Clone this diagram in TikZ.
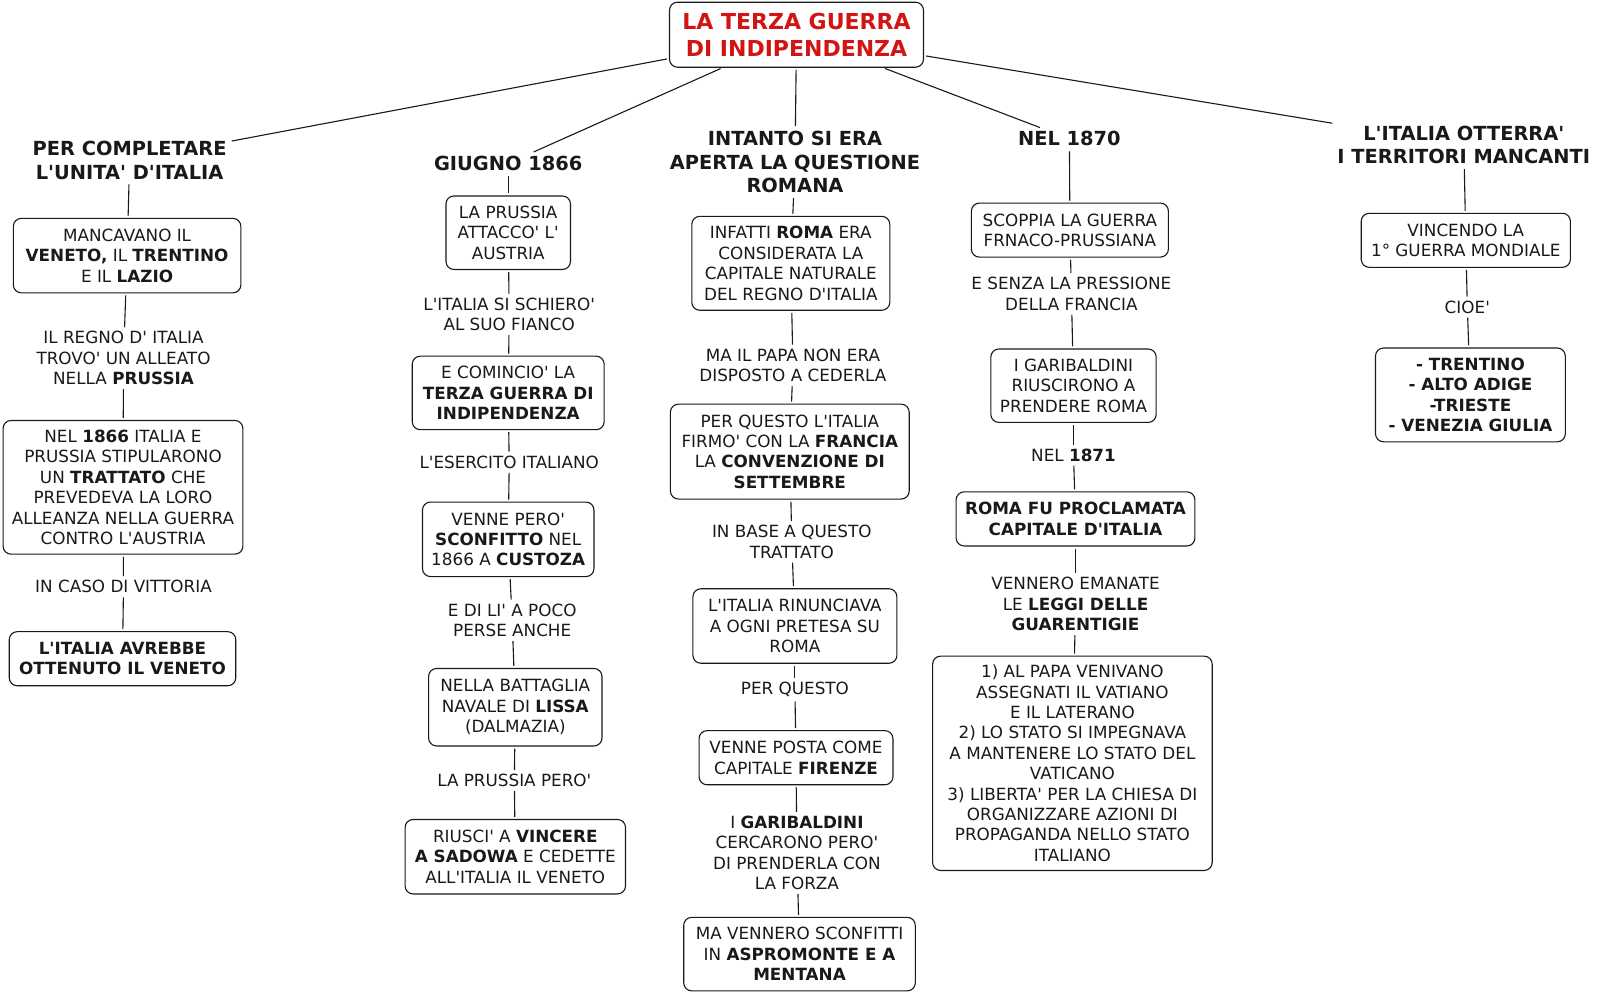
\documentclass[tikz,border=0pt]{standalone}
\usepackage{fontspec}
\newfontfamily\vfont{DejaVu Sans}
\newcommand\bodyfs{\vfont\fontsize{16.8}{20.4}\selectfont}
\newcommand\headfs{\vfont\fontsize{19.4}{23.5}\selectfont\bfseries}
\newcommand\titlefs{\vfont\fontsize{22}{26.5}\selectfont\bfseries}
\definecolor{tred}{RGB}{210,20,20}
\definecolor{ink}{RGB}{25,25,25}
\begin{document}
\begin{tikzpicture}[x=1pt,y=-1pt,
  box/.style={draw=ink, line width=1.1pt, rounded corners=8pt, align=center, font=\bodyfs, text=ink, inner sep=2pt},
  lbl/.style={align=center, font=\bodyfs, text=ink, inner sep=2pt},
  head/.style={align=center, font=\headfs, text=ink, inner sep=3pt},
  conn/.style={line width=1.1pt, draw=ink, shorten >=2pt, shorten <=2pt}]
\useasboundingbox[fill=white] (0,0) rectangle (1600,994);

% title
\node[box, font=\titlefs, text=tred, minimum width=254pt, minimum height=65pt] (title) at (796.5,34.7) {LA TERZA GUERRA\\DI INDIPENDENZA};

% headings
\node[head] (h1) at (129.6,160.2) {PER COMPLETARE\\L'UNITA' D'ITALIA};
\node[head] (h2) at (508.2,163.3) {GIUGNO 1866};
\node[head] (h3) at (795,162.2) {INTANTO SI ERA\\APERTA LA QUESTIONE\\ROMANA};
\node[head] (h4) at (1069.4,138.8) {NEL 1870};
\node[head] (h5) at (1463.8,144.9) {L'ITALIA OTTERRA'\\I TERRITORI MANCANTI};

% column 1
\node[box, minimum width=227.5pt, minimum height=74.5pt] (b1) at (127.1,255.6) {MANCAVANO IL\\\textbf{VENETO,} IL \textbf{TRENTINO}\\E IL \textbf{LAZIO}};
\node[lbl] (l1) at (123.5,358.2) {IL REGNO D' ITALIA\\TROVO' UN ALLEATO\\NELLA \textbf{PRUSSIA}};
\node[box, minimum width=239.8pt, minimum height=133.7pt] (b2) at (123,487.3) {NEL \textbf{1866} ITALIA E\\PRUSSIA STIPULARONO\\UN \textbf{TRATTATO} CHE\\PREVEDEVA LA LORO\\ALLEANZA NELLA GUERRA\\CONTRO L'AUSTRIA};
\node[lbl] (l2) at (123.5,586.7) {IN CASO DI VITTORIA};
\node[box, font=\bodyfs\bfseries, minimum width=226.5pt, minimum height=54.1pt] (b3) at (122.5,658.7) {L'ITALIA AVREBBE\\OTTENUTO IL VENETO};

% column 2
\node[box, minimum width=124.5pt, minimum height=73.5pt] (b4) at (508.2,232.7) {LA PRUSSIA\\ATTACCO' L'\\AUSTRIA};
\node[lbl] (l3) at (509.2,314.3) {L'ITALIA SI SCHIERO'\\AL SUO FIANCO};
\node[box, minimum width=191.9pt, minimum height=73.5pt] (b5) at (508.2,392.9) {E COMINCIO' LA\\\textbf{TERZA GUERRA DI}\\\textbf{INDIPENDENZA}};
\node[lbl] (l4) at (509.2,462.2) {L'ESERCITO ITALIANO};
\node[box, minimum width=171.5pt, minimum height=74.5pt] (b6) at (508.2,539.3) {VENNE PERO'\\\textbf{SCONFITTO} NEL\\1866 A \textbf{CUSTOZA}};
\node[lbl] (l5) at (512.2,620.4) {E DI LI' A POCO\\PERSE ANCHE};
\node[box, minimum width=173.4pt, minimum height=77.5pt] (b7) at (515.3,707.2) {NELLA BATTAGLIA\\NAVALE DI \textbf{LISSA}\\(DALMAZIA)};
\node[lbl] (l6) at (514.3,780.6) {LA PRUSSIA PERO'};
\node[box, minimum width=220.4pt, minimum height=74.5pt] (b8) at (515.3,856.7) {RIUSCI' A \textbf{VINCERE}\\\textbf{A SADOWA} E CEDETTE\\ALL'ITALIA IL VENETO};

% column 3
\node[box, minimum width=198pt, minimum height=93.9pt] (b9) at (790.8,263.3) {INFATTI \textbf{ROMA} ERA\\CONSIDERATA LA\\CAPITALE NATURALE\\DEL REGNO D'ITALIA};
\node[lbl] (l7) at (792.9,365.3) {MA IL PAPA NON ERA\\DISPOSTO A CEDERLA};
\node[box, minimum width=238.8pt, minimum height=94.9pt] (b10) at (789.8,451.6) {PER QUESTO L'ITALIA\\FIRMO' CON LA \textbf{FRANCIA}\\LA \textbf{CONVENZIONE DI}\\\textbf{SETTEMBRE}};
\node[lbl] (l8) at (791.8,541.8) {IN BASE A QUESTO\\TRATTATO};
\node[box, minimum width=204pt, minimum height=74.5pt] (b11) at (794.9,626) {L'ITALIA RINUNCIAVA\\A OGNI PRETESA SU\\ROMA};
\node[lbl] (l9) at (794.9,689.8) {PER QUESTO};
\node[box, minimum width=193.9pt, minimum height=54.1pt] (b12) at (796,757.7) {VENNE POSTA COME\\CAPITALE \textbf{FIRENZE}};
\node[lbl] (l10) at (796.9,853) {I \textbf{GARIBALDINI}\\CERCARONO PERO'\\DI PRENDERLA CON\\LA FORZA};
\node[box, minimum width=231.6pt, minimum height=73.5pt] (b13) at (799.5,954.1) {MA VENNERO SCONFITTI\\IN \textbf{ASPROMONTE E A}\\\textbf{MENTANA}};

% column 4
\node[box, minimum width=197pt, minimum height=54pt] (b14) at (1069.9,230.1) {SCOPPIA LA GUERRA\\FRNACO-PRUSSIANA};
\node[lbl] (l11) at (1071.4,293.9) {E SENZA LA PRESSIONE\\DELLA FRANCIA};
\node[box, minimum width=165.3pt, minimum height=73.4pt] (b15) at (1073.5,385.7) {I GARIBALDINI\\RIUSCIRONO A\\PRENDERE ROMA};
\node[lbl] (l12) at (1073.5,455.1) {NEL \textbf{1871}};
\node[box, font=\bodyfs\bfseries, minimum width=238.8pt, minimum height=54.1pt] (b16) at (1075.5,518.9) {ROMA FU PROCLAMATA\\CAPITALE D'ITALIA};
\node[lbl] (l13) at (1075.5,604.1) {VENNERO EMANATE\\LE \textbf{LEGGI DELLE}\\\textbf{GUARENTIGIE}};
\node[box, minimum width=279.6pt, minimum height=214.3pt] (b17) at (1072.4,763.3) {1) AL PAPA VENIVANO\\ASSEGNATI IL VATIANO\\E IL LATERANO\\2) LO STATO SI IMPEGNAVA\\A MANTENERE LO STATO DEL\\VATICANO\\3) LIBERTA' PER LA CHIESA DI\\ORGANIZZARE AZIONI DI\\PROPAGANDA NELLO STATO\\ITALIANO};

% column 5
\node[box, minimum width=209.2pt, minimum height=54pt] (b18) at (1465.8,240.3) {VINCENDO LA\\1° GUERRA MONDIALE};
\node[lbl] (l14) at (1467.3,307.1) {CIOE'};
\node[box, font=\bodyfs\bfseries, minimum width=189.8pt, minimum height=93.8pt] (b19) at (1470.4,394.9) {- TRENTINO\\- ALTO ADIGE\\-TRIESTE\\- VENEZIA GIULIA};

% connectors
\foreach \a/\b in {title/h1,title/h2,title/h3,title/h4,title/h5,
  h1/b1,b1/l1,l1/b2,b2/l2,l2/b3,
  h2/b4,b4/l3,l3/b5,b5/l4,l4/b6,b6/l5,l5/b7,b7/l6,l6/b8,
  h3/b9,b9/l7,l7/b10,b10/l8,l8/b11,b11/l9,l9/b12,b12/l10,l10/b13,
  h4/b14,b14/l11,l11/b15,b15/l12,l12/b16,b16/l13,l13/b17,
  h5/b18,b18/l14,l14/b19}
  \draw[conn] (\a) -- (\b);
\end{tikzpicture}
\end{document}
